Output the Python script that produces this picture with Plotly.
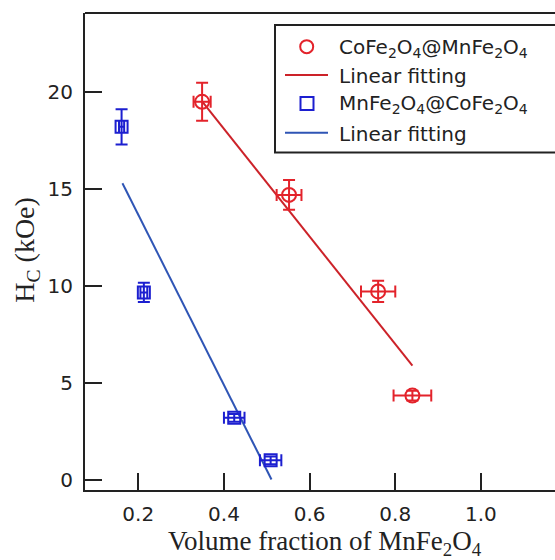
import plotly.graph_objects as go

# ---- data ----
red_x = [0.349, 0.552, 0.760, 0.840]
red_y = [19.48, 14.68, 9.70, 4.33]
red_xerr = [0.020, 0.029, 0.040, 0.044]
red_yerr = [0.98, 0.77, 0.55, 0.25]

blue_x = [0.161, 0.213, 0.424, 0.509]
blue_y = [18.19, 9.65, 3.18, 0.99]
blue_xerr = [0.006, 0.008, 0.024, 0.025]
blue_yerr = [0.91, 0.50, 0.20, 0.20]

fit_red_x = [0.349, 0.840]
fit_red_y = [19.50, 5.87]
fit_blue_x = [0.163, 0.511]
fit_blue_y = [15.28, 0.00]

x_ticks = [0.2, 0.4, 0.6, 0.8, 1.0]
x_ticklabels = ["0.2", "0.4", "0.6", "0.8", "1.0"]
y_ticks = [0, 5, 10, 15, 20]
y_ticklabels = ["0", "5", "10", "15", "20"]

legend_labels = [
    "CoFe<sub>2</sub>O<sub>4</sub>@MnFe<sub>2</sub>O<sub>4</sub>",
    "Linear fitting",
    "MnFe<sub>2</sub>O<sub>4</sub>@CoFe<sub>2</sub>O<sub>4</sub>",
    "Linear fitting",
]

RED = "#e3232b"
RED_LINE = "#cc2229"
BLUE = "#1c1fd0"
BLUE_LINE = "#2f55b5"
AX = "#222222"

W, H = 555, 560
ML, MR, MT, MB = 85, 0, 13, 69.5
PW = W - ML - MR
PH = H - MT - MB


def px(xp):
    return (xp - ML) / PW


def py(yp):
    return (H - MB - yp) / PH


fig = go.Figure()

fig.add_trace(go.Scatter(
    x=fit_red_x, y=fit_red_y, mode="lines",
    line=dict(color=RED_LINE, width=2), showlegend=False, hoverinfo="skip"))
fig.add_trace(go.Scatter(
    x=fit_blue_x, y=fit_blue_y, mode="lines",
    line=dict(color=BLUE_LINE, width=2), showlegend=False, hoverinfo="skip"))

fig.add_trace(go.Scatter(
    x=red_x, y=red_y, mode="markers",
    marker=dict(symbol="circle-open", size=14, color=RED, line=dict(width=2, color=RED)),
    error_x=dict(type="data", array=red_xerr, color=RED, thickness=2, width=6),
    error_y=dict(type="data", array=red_yerr, color=RED, thickness=2, width=6),
    showlegend=False))
fig.add_trace(go.Scatter(
    x=blue_x, y=blue_y, mode="markers",
    marker=dict(symbol="square-open", size=12, color=BLUE, line=dict(width=2, color=BLUE)),
    error_x=dict(type="data", array=blue_xerr, color=BLUE, thickness=2, width=6),
    error_y=dict(type="data", array=blue_yerr, color=BLUE, thickness=2, width=6),
    showlegend=False))

tickfont = dict(family="DejaVu Sans", size=20, color=AX)
fig.update_xaxes(
    range=[0.0756, 1.1729], tickvals=x_ticks, ticktext=x_ticklabels,
    ticks="inside", ticklen=17, tickwidth=2, tickcolor=AX,
    showline=True, linewidth=2, linecolor=AX, showgrid=False, zeroline=False,
    tickfont=tickfont, ticklabelstandoff=5)
fig.update_yaxes(
    range=[-0.54, 24.06], tickvals=y_ticks, ticktext=y_ticklabels,
    ticks="inside", ticklen=17, tickwidth=2, tickcolor=AX,
    showline=True, linewidth=2, linecolor=AX, showgrid=False, zeroline=False,
    tickfont=tickfont, ticklabelstandoff=6)

shapes = [
    dict(type="line", xref="paper", yref="paper", x0=0, x1=1, y0=1, y1=1,
         line=dict(color=AX, width=2)),
    dict(type="rect", xref="paper", yref="paper", x0=px(275), x1=1.2,
         y0=py(152.7), y1=py(25), line=dict(color=AX, width=2), fillcolor="white",
         layer="above"),
]
row_y = [46.7, 75, 103.5, 133]
# legend symbols
shapes.append(dict(type="circle", xref="paper", yref="paper",
                   x0=px(306.7 - 6.5), x1=px(306.7 + 6.5), y0=py(row_y[0] + 6.5), y1=py(row_y[0] - 6.5),
                   line=dict(color=RED, width=2)))
shapes.append(dict(type="line", xref="paper", yref="paper",
                   x0=px(285), x1=px(328), y0=py(row_y[1]), y1=py(row_y[1]),
                   line=dict(color=RED_LINE, width=2)))
shapes.append(dict(type="rect", xref="paper", yref="paper",
                   x0=px(307 - 6.5), x1=px(307 + 6.5), y0=py(row_y[2] + 6.5), y1=py(row_y[2] - 6.5),
                   line=dict(color=BLUE, width=2)))
shapes.append(dict(type="line", xref="paper", yref="paper",
                   x0=px(285), x1=px(328), y0=py(row_y[3]), y1=py(row_y[3]),
                   line=dict(color=BLUE_LINE, width=2)))

annotations = []
for lab, yy in zip(legend_labels, row_y):
    annotations.append(dict(
        xref="paper", yref="paper", x=px(337), y=py(yy + 1), xanchor="left", yanchor="middle",
        text=lab, showarrow=False, font=dict(family="DejaVu Sans", size=20, color=AX)))

annotations.append(dict(
    xref="paper", yref="paper", x=px(324.5), y=py(544), xanchor="center", yanchor="middle",
    text="Volume fraction of MnFe<sub>2</sub>O<sub>4</sub>", showarrow=False,
    font=dict(family="Liberation Serif", size=27, color=AX)))
annotations.append(dict(
    xref="paper", yref="paper", x=px(27), y=py(250), xanchor="center", yanchor="middle",
    text="H<sub>C</sub> (kOe)", textangle=-90, showarrow=False,
    font=dict(family="Liberation Serif", size=28, color=AX)))

fig.update_layout(
    width=W, height=H,
    margin=dict(l=ML, r=MR, t=MT, b=MB, pad=0),
    paper_bgcolor="white", plot_bgcolor="white",
    shapes=shapes, annotations=annotations, showlegend=False)

fig.write_html("out.html")
